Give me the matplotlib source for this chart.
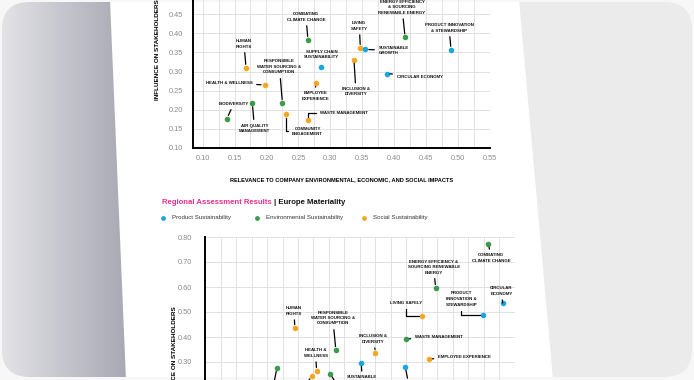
import matplotlib
matplotlib.use('Agg')
import matplotlib.pyplot as plt
from matplotlib.patches import FancyBboxPatch, Polygon
from matplotlib.colors import LinearSegmentedColormap
import numpy as np

#%% data -----------------------------------------------------------

colors = {'prod': '#19a7e0', 'env': '#3b9b4b', 'soc': '#f5a623'}
legend_labels = ['Product Sustainability', 'Environmental Sustainability', 'Social Sustainability']

# global materiality (top chart)
top_names = ['COMBATING\nCLIMATE CHANGE', 'SUPPLY CHAIN\nSUSTAINABILITY', 'HUMAN\nRIGHTS',
             'HEALTH & WELLNESS', 'RESPONSIBLE\nWATER SOURCING &\nCONSUMPTION', 'EMPLOYEE\nEXPERIENCE',
             'BIODIVERSITY', 'AIR QUALITY\nMANAGEMENT', 'COMMUNITY\nENGAGEMENT', 'WASTE MANAGEMENT',
             'ENERGY EFFICIENCY\n& SOURCING\nRENEWABLE ENERGY', 'LIVING\nSAFETY', 'SUSTAINABLE\nGROWTH',
             'PRODUCT INNOVATION\n& STEWARDSHIP', 'INCLUSION &\nDIVERSITY', 'CIRCULAR ECONOMY']
top_x = [0.265, 0.285, 0.168, 0.197, 0.225, 0.277, 0.138, 0.178, 0.230, 0.265,
         0.417, 0.347, 0.355, 0.489, 0.337, 0.388]
top_y = [0.383, 0.313, 0.310, 0.265, 0.218, 0.270, 0.177, 0.217, 0.188, 0.172,
         0.390, 0.362, 0.358, 0.357, 0.331, 0.295]
top_cat = ['env', 'prod', 'soc', 'soc', 'env', 'soc', 'env', 'env', 'soc', 'soc',
           'env', 'soc', 'prod', 'prod', 'soc', 'prod']

# europe materiality (bottom chart)
eu_names = ['COMBATING\nCLIMATE CHANGE', 'ENERGY EFFICIENCY &\nSOURCING RENEWABLE\nENERGY', 'LIVING SAFELY',
            'PRODUCT\nINNOVATION &\nSTEWARDSHIP', 'CIRCULAR\nECONOMY', 'WASTE MANAGEMENT',
            'INCLUSION &\nDIVERSITY', 'EMPLOYEE EXPERIENCE', 'HUMAN\nRIGHTS',
            'RESPONSIBLE\nWATER SOURCING &\nCONSUMPTION', 'HEALTH &\nWELLNESS', 'BIODIVERSITY',
            'COMMUNITY\nENGAGEMENT', 'AIR QUALITY\nMANAGEMENT', 'SUSTAINABLE\nGROWTH',
            'SUPPLY CHAIN\nSUSTAINABILITY']
eu_x = [0.557, 0.472, 0.450, 0.549, 0.580, 0.424, 0.375, 0.461, 0.245, 0.311, 0.280,
        0.216, 0.272, 0.302, 0.352, 0.423]
eu_y = [0.772, 0.596, 0.484, 0.488, 0.536, 0.392, 0.336, 0.312, 0.436, 0.348, 0.264,
        0.276, 0.244, 0.252, 0.296, 0.280]
eu_cat = ['env', 'env', 'soc', 'prod', 'prod', 'env', 'soc', 'soc', 'soc', 'env', 'soc',
          'env', 'soc', 'env', 'prod', 'prod']

#%% label placement (offset pixels, alignment, connector) ----------

L = 'angle,angleA=0,angleB=90,rad=0'
V = 'angle,angleA=90,angleB=0,rad=0'
top_lay = [(-2, 23, 'center', None), (1, 12, 'center', 'none'), (-2, 24, 'center', None),
           (-12, 2, 'right', None), (-3, 36, 'center', None), (0, -13, 'center', None),
           (7, 15, 'center', None), (2, -25, 'center', None), (22, -17, 'center', L),
           (12, 7, 'left', L), (-3, 30, 'center', None), (-1, 22, 'center', None),
           (13, -1, 'left', None), (-2, 22, 'center', None), (2, -32, 'center', None),
           (10, -3, 'left', None)]
eu_lay = [(3, -14, 'center', None), (-2, 21, 'center', None), (-16, 13, 'center', V),
          (-22, 16, 'center', V), (-1, 12, 'center', None), (9, 2, 'left', None),
          (-2, 14, 'center', None), (9, 2, 'left', None), (-1, 17, 'center', None),
          (-3, 32, 'center', None), (-1, 18, 'center', None), (-4, -20, 'center', None),
          (-14, -22, 'center', None), (14, -22, 'center', None), (1, -17, 'center', None),
          (4, -20, 'center', None)]

FONT = ['Liberation Sans', 'DejaVu Sans']
plt.rcParams['font.family'] = FONT

#%% figure and background ------------------------------------------

W, H = 694, 380
fig = plt.figure(figsize=(W / 100, H / 100), dpi=100, facecolor='#f7f7f7')

bg = fig.add_axes([0, 0, 1, 1], zorder=-5)
bg.set_xlim(0, W)
bg.set_ylim(H, 0)
bg.axis('off')

card = FancyBboxPatch((2, 2), W - 4, H - 5, boxstyle='round,pad=0,rounding_size=28',
                      facecolor='#ebebec', edgecolor='none')
bg.add_patch(card)
shade = LinearSegmentedColormap.from_list('shade', ['#e4e4e8', '#c4c4cc', '#a7a7b3'])
im = bg.imshow(np.linspace(0, 1, 256)[None, :], extent=(0, 130, H, 0), cmap=shade,
               aspect='auto', zorder=1)
im.set_clip_path(card)
page = Polygon([(110, 0), (519, 0), (553, H), (126, H)], closed=True,
               facecolor='white', edgecolor='none', zorder=2)
bg.add_patch(page)
page.set_clip_path(card)


def draw_points(ax, xs, ys, cats, names, lay):
    for x, y, c, name, (dx, dy, ha, conn) in zip(xs, ys, cats, names, lay):
        ax.scatter(x, y, s=16, color=colors[c], zorder=4, linewidths=0)
        arrow = None
        if conn != 'none':
            arrow = dict(arrowstyle='-', color='black', lw=0.9, shrinkA=1, shrinkB=2.5,
                         connectionstyle=conn if conn else 'arc3')
        ax.annotate(name, xy=(x, y), xytext=(dx, dy), textcoords='offset pixels',
                    ha=ha, va='center', fontsize=3.2, fontweight='bold',
                    linespacing=1.5, color='#111111', arrowprops=arrow, zorder=5)


def style_axes(ax):
    ax.set_facecolor('none')
    ax.grid(True, which='both', color='#e2e2e2', lw=0.7, zorder=0)
    ax.set_axisbelow(True)
    ax.tick_params(which='both', length=0, labelsize=5.3, labelcolor='#8a8a8a')
    for s in ['top', 'right']:
        ax.spines[s].set_visible(False)


#%% top chart ------------------------------------------------------

ax1 = fig.add_axes([193 / W, 232 / H, 297 / W, 149 / H])
ax1.set_xlim(0.085, 0.55)
ax1.set_ylim(0.10, 0.49)
ax1.set_xticks(np.arange(0.10, 0.551, 0.05))
ax1.set_xticks(np.arange(0.10, 0.551, 0.025), minor=True)
ax1.set_yticks(np.arange(0.10, 0.451, 0.05))
ax1.set_xticklabels(['%.2f' % v for v in np.arange(0.10, 0.551, 0.05)])
ax1.set_yticklabels(['%.2f' % v for v in np.arange(0.10, 0.451, 0.05)])
style_axes(ax1)
ax1.tick_params(axis='y', pad=7)
ax1.tick_params(axis='x', pad=5)
ax1.spines['left'].set_linewidth(1.4)
ax1.spines['bottom'].set_linewidth(1.4)
draw_points(ax1, top_x, top_y, top_cat, top_names, top_lay)
ax1.set_ylabel('INFLUENCE ON STAKEHOLDERS', fontsize=4.6, fontweight='bold')
ax1.yaxis.set_label_coords(-0.11, 0.66)
ax1.set_xlabel('RELEVANCE TO COMPANY ENVIRONMENTAL, ECONOMIC, AND SOCIAL IMPACTS',
               fontsize=4.1, fontweight='bold', labelpad=11)

#%% header + legend ------------------------------------------------

t1 = fig.text(162 / W, 1 - 202 / H, 'Regional Assessment Results', color='#e5308f',
              fontsize=5.6, fontweight='bold', va='center')
fig.canvas.draw()
x_end = t1.get_window_extent().x1
fig.text((x_end + 2) / W, 1 - 202 / H, '| Europe Materiality', color='#111111',
         fontsize=5.6, fontweight='bold', va='center')
leg_x = [163, 257, 364]
for lx, lab, c in zip(leg_x, legend_labels, ['prod', 'env', 'soc']):
    bg.scatter(lx, 218, s=12, color=colors[c], linewidths=0, zorder=3)
    bg.text(lx + 9, 218, lab, fontsize=4.4, color='#333333', va='center', zorder=3)

#%% europe chart ---------------------------------------------------

ax2 = fig.add_axes([205 / W, -7 / H, 310 / W, 150 / H])
ax2.set_xlim(0.10, 0.60)
ax2.set_ylim(0.20, 0.80)
ax2.set_xticks(np.arange(0.10, 0.601, 0.025), minor=True)
ax2.set_xticks(np.arange(0.10, 0.601, 0.05))
ax2.set_xticklabels([])
ax2.set_yticks(np.arange(0.30, 0.801, 0.10))
ax2.set_yticklabels(['%.2f' % v for v in np.arange(0.30, 0.801, 0.10)])
style_axes(ax2)
ax2.tick_params(axis='y', pad=9)
ax2.spines['bottom'].set_visible(False)
ax2.spines['left'].set_linewidth(1.4)
draw_points(ax2, eu_x, eu_y, eu_cat, eu_names, eu_lay)
ax2.set_ylabel('INFLUENCE ON STAKEHOLDERS', fontsize=4.6, fontweight='bold')
ax2.yaxis.set_label_coords(-0.09, 0.2)

fig.savefig('out.png', dpi=100, facecolor=fig.get_facecolor())
